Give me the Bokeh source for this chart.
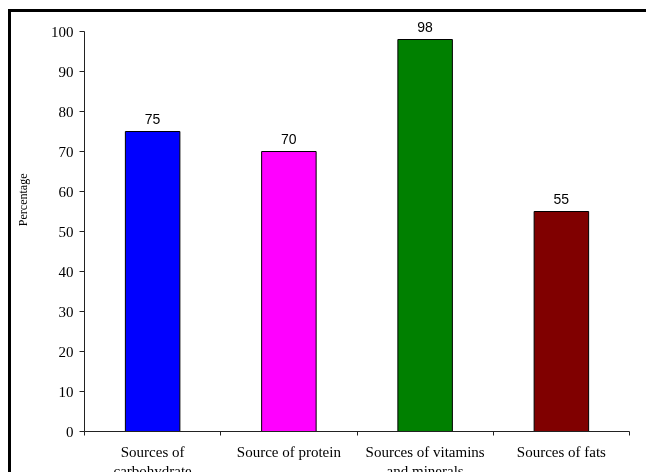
from bokeh.plotting import figure
from bokeh.layouts import column
from bokeh.models import ColumnDataSource, FixedTicker, LabelSet, Range1d, Title
from bokeh.core.properties import value
from bokeh.embed import file_html
from bokeh.resources import INLINE

# ---- data ----
categories = ["Sources of carbohydrate", "Source of protein",
              "Sources of vitamins and minerals", "Sources of fats"]
tick_labels = ["Sources of\ncarbohydrate", "Source of protein",
               "Sources of vitamins\nand minerals", "Sources of fats"]
values = [75, 70, 98, 55]
bar_colors = ["#0000FF", "#FF00FF", "#008000", "#800000"]
y_ticks = [0, 10, 20, 30, 40, 50, 60, 70, 80, 90, 100]
y_label = "Percentage"

n = len(categories)
xs = [i + 0.5 for i in range(n)]
bounds = list(range(n + 1))

src = ColumnDataSource(dict(x=xs, top=values, color=bar_colors,
                            label=[str(v) for v in values], cat=categories))

p = figure(width=636, height=471, x_range=Range1d(0, n), y_range=Range1d(0, 103.5),
           output_backend="svg", toolbar_location=None,
           width_policy="fixed", height_policy="fixed",
           min_border_left=73, min_border_right=18, min_border_top=5, min_border_bottom=52)
p.styles = {"overflow": "hidden"}
p.outline_line_color = None
p.grid.visible = False
p.background_fill_color = "white"
p.border_fill_color = "white"

p.vbar(x="x", top="top", bottom=0, width=0.4, fill_color="color",
       line_color="black", line_width=1, source=src)

labels = LabelSet(x="x", y="top", text="label", source=src, y_offset=8,
                  text_align="center", text_baseline="alphabetic",
                  text_font=value("Liberation Sans"), text_font_size="14px",
                  text_color="black")
p.add_layout(labels)

# invisible spacer between the y axis and its title
p.add_layout(Title(text=" ", text_font_size="1px", standoff=15), "left")
p.add_layout(Title(text=y_label, align="right", offset=156, standoff=0,
                   text_font="Liberation Serif", text_font_size="12px",
                   text_font_style="normal", text_color="black"), "left")

ya = p.yaxis[0]
ya.bounds = (0, 100)
ya.ticker = FixedTicker(ticks=y_ticks, minor_ticks=[])
ya.major_tick_in = 0
ya.major_tick_out = 5
ya.minor_tick_in = 0
ya.minor_tick_out = 0
ya.major_label_standoff = 6
ya.major_label_text_font = "Liberation Serif"
ya.major_label_text_font_size = "15px"
ya.major_label_text_color = "black"
ya.axis_line_color = "#222222"
ya.major_tick_line_color = "#222222"

xa = p.xaxis[0]
xa.ticker = FixedTicker(ticks=xs, minor_ticks=bounds)
xa.major_label_overrides = {x: t for x, t in zip(xs, tick_labels)}
xa.major_tick_in = 0
xa.major_tick_out = 0
xa.minor_tick_in = 0
xa.minor_tick_out = 4
xa.major_label_standoff = 8
xa.major_label_text_font = "Liberation Serif"
xa.major_label_text_font_size = "15px"
xa.major_label_text_color = "black"
xa.axis_line_color = "#222222"
xa.minor_tick_line_color = "#222222"

root = column(p, styles={"position": "fixed", "left": "8px", "top": "9px",
                         "border-left": "3px solid black", "border-top": "3px solid black",
                         "height": "463px", "width": "638px",
                         "overflow": "hidden"})

open("out.html", "w").write(file_html(root, INLINE))
